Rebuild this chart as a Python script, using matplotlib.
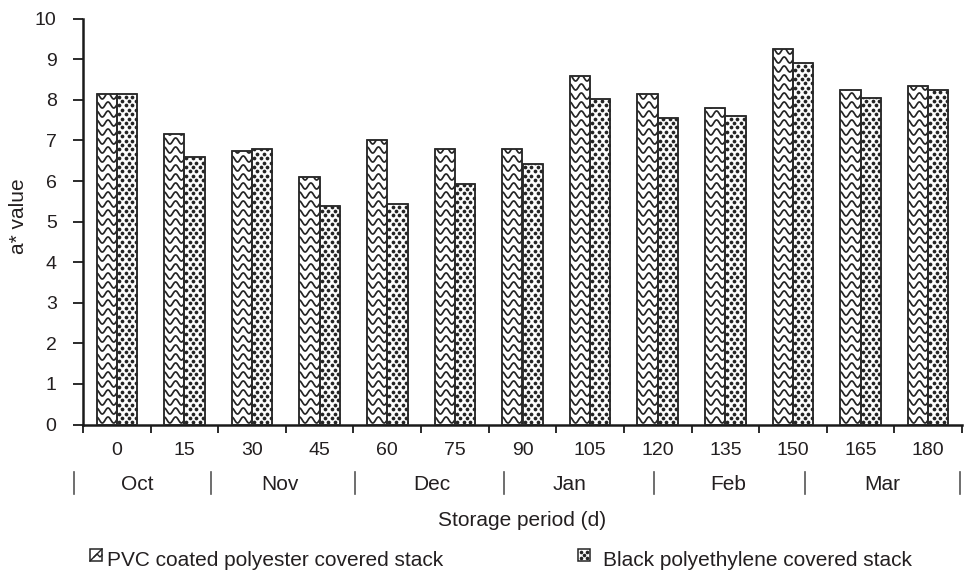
import numpy as np
import matplotlib
matplotlib.use("Agg")
import matplotlib.pyplot as plt
from matplotlib.patches import Rectangle
from matplotlib.lines import Line2D
import matplotlib.transforms as mtransforms

plt.rcParams['font.family'] = ['Liberation Sans', 'DejaVu Sans']

# ---------------- data ----------------
days = ["0", "15", "30", "45", "60", "75", "90", "105", "120", "135", "150", "165", "180"]
pvc = [8.15, 7.15, 6.75, 6.1, 7.0, 6.8, 6.8, 8.6, 8.15, 7.8, 9.25, 8.25, 8.35]
black = [8.15, 6.6, 6.8, 5.38, 5.43, 5.93, 6.43, 8.03, 7.55, 7.6, 8.9, 8.04, 8.25]
months = ["Oct", "Nov", "Dec", "Jan", "Feb", "Mar"]
series_names = ["PVC coated polyester covered stack", "Black polyethylene covered stack"]

# ---------------- layout ----------------
W, H = 965, 571
fig = plt.figure(figsize=(W / 100, H / 100), dpi=100)
ax_left, ax_right, ax_top, ax_bot = 83, 962, 18.7, 424.5
ax = fig.add_axes([ax_left / W, 1 - ax_bot / H, (ax_right - ax_left) / W, (ax_bot - ax_top) / H])
fy = lambda py: 1 - py / H
fx = lambda px: px / W

txt_color = '#231f20'
edge = '#2a2a2a'
pat = '#242424'
fs_tick = 14
fs = 15

x = np.arange(len(days))
bw = 0.3
b1 = ax.bar(x - bw / 2, pvc, bw, facecolor='white', edgecolor=edge, linewidth=1.1, zorder=2)
b2 = ax.bar(x + bw / 2, black, bw, facecolor='white', edgecolor=edge, linewidth=1.1, zorder=2)

ax.set_xlim(-0.5, len(days) - 0.5)
ax.set_ylim(0, 10)

px_x = (ax_right - ax_left) / len(days)
px_y = (ax_bot - ax_top) / 10.0

# wave pattern inside PVC bars (clipped to each bar)
period = 11.5 / px_x
amp = 3.0 / px_y
row = 9.0 / px_y
for p in b1.patches:
    x0, w, h = p.get_x(), p.get_width(), p.get_height()
    xs = np.linspace(x0 - 0.02, x0 + w + 0.02, 120)
    yk = -row / 2
    while yk < h + row:
        ys = yk + amp * np.sin(2 * np.pi * (xs - x0) / period + np.pi / 2)
        ln, = ax.plot(xs, ys, color=pat, lw=1.25, zorder=3, solid_capstyle='butt')
        ln.set_clip_path(p)
        yk += row
    ax.add_patch(Rectangle((x0, 0), w, h, fill=False, edgecolor=edge, lw=1.1, zorder=4))

# dot pattern inside black polyethylene bars
dx = 6.7 / px_x
dy = 4.4 / px_y
for p in b2.patches:
    x0, w, h = p.get_x(), p.get_width(), p.get_height()
    pts_x, pts_y = [], []
    j = 0
    yk = dy / 2
    while yk < h + dy:
        off = dx * 0.3 if j % 2 == 0 else dx * 0.8
        xk = x0 + off
        while xk < x0 + w + dx:
            pts_x.append(xk)
            pts_y.append(yk)
            xk += dx
        yk += dy
        j += 1
    dl, = ax.plot(pts_x, pts_y, linestyle='none', marker='o', ms=2.7, mew=0,
                  color=pat, zorder=3)
    dl.set_clip_path(p)
    ax.add_patch(Rectangle((x0, 0), w, h, fill=False, edgecolor=edge, lw=1.1, zorder=4))

# spines
for s in ['top', 'right']:
    ax.spines[s].set_visible(False)
for s in ['left', 'bottom']:
    ax.spines[s].set_linewidth(1.8)
    ax.spines[s].set_color('#1a1a1a')

ax.set_yticks(np.arange(0, 11, 1))
ax.tick_params(axis='y', direction='out', length=7, width=1.3, colors='#1a1a1a',
               labelsize=fs_tick, labelcolor=txt_color, pad=12)

# x ticks at category boundaries, labels at centers
ax.set_xticks(np.arange(-0.5, len(days), 1.0))
ax.set_xticklabels([])
ax.tick_params(axis='x', which='major', direction='out', length=6, width=1.3, colors='#1a1a1a')
ax.set_xticks(x, minor=True)
ax.set_xticklabels(days, minor=True)
ax.tick_params(axis='x', which='minor', length=0, labelsize=fs_tick, labelcolor=txt_color, pad=12.5)

fig.text(fx(19), fy(216), "a* value", rotation=90, ha='center', va='center',
         fontsize=fs, color=txt_color)

# month row
trans = mtransforms.blended_transform_factory(ax.transData, fig.transFigure)
sep_px = [74, 211, 355, 504, 654, 805, 960]
lab_px = [137, 280, 432, 570, 728, 882]
to_data = lambda px: (px - ax_left) / px_x - 0.5
for sp in sep_px:
    ax.plot([to_data(sp), to_data(sp)], [fy(472), fy(494)], transform=trans,
            color='#555555', lw=1.2, clip_on=False)
for m, lp in zip(months, lab_px):
    ax.text(to_data(lp), fy(490), m, transform=trans, ha='center', va='baseline',
            fontsize=fs, color=txt_color)

fig.text(fx((ax_left + ax_right) / 2), fy(526.5), "Storage period (d)", ha='center',
         va='baseline', fontsize=fs, color=txt_color)

# legend (manual placement, symbol glyph style)
s = 12
l1x, l2x, ly = 90, 578, 549
fig.add_artist(Rectangle((fx(l1x), fy(ly + s)), s / W, s / H, transform=fig.transFigure,
                         facecolor='white', edgecolor=pat, lw=1.1))
fig.add_artist(Line2D([fx(l1x), fx(l1x + s)], [fy(ly + s), fy(ly)], transform=fig.transFigure,
                      color=pat, lw=1.0))
fig.add_artist(Line2D([fx(l1x + 4), fx(l1x + 7), fx(l1x + 10), fx(l1x + s)],
                      [fy(ly + s - 4), fy(ly + s - 7), fy(ly + s - 4), fy(ly + s - 6)],
                      transform=fig.transFigure, color=pat, lw=1.0))
fig.add_artist(Rectangle((fx(l2x), fy(ly + s)), s / W, s / H, transform=fig.transFigure,
                         facecolor='white', edgecolor=pat, lw=1.1))
for ddx, ddy in [(3, 3), (9, 3), (6, 6), (3, 9), (9, 9)]:
    fig.add_artist(Line2D([fx(l2x + ddx)], [fy(ly + ddy)], transform=fig.transFigure,
                          marker='o', ms=2.6, mew=0, color=pat, linestyle='none'))
fig.text(fx(107), fy(566.5), series_names[0], ha='left', va='baseline', fontsize=fs, color=txt_color)
fig.text(fx(603), fy(566.5), series_names[1], ha='left', va='baseline', fontsize=fs, color=txt_color)

fig.savefig("out.png", dpi=100)
